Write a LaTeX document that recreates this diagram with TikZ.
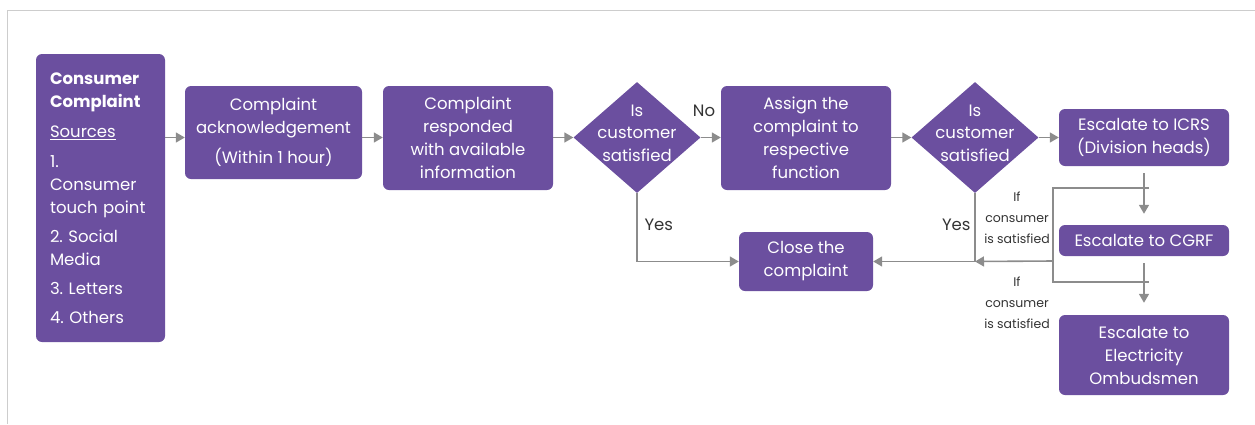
\documentclass[tikz,border=0pt]{standalone}
\usepackage{fontspec}
\setmainfont{Poppins}
\usetikzlibrary{shapes.geometric,arrows.meta}
\definecolor{cpurple}{RGB}{107,79,159}
\definecolor{cgray}{RGB}{140,140,140}
\definecolor{cframe}{RGB}{205,205,205}
\frenchspacing

\begin{document}
\begin{tikzpicture}[x=1pt,y=-1pt,
    box/.style={fill=cpurple,rounded corners=6pt,text=white,align=center,inner sep=2pt,font=\fontsize{16.5}{23}\selectfont},
    dia/.style={diamond,fill=cpurple,inner sep=0pt,minimum width=127pt,minimum height=111pt},
    dtext/.style={text=white,align=center,font=\fontsize{16.5}{22.5}\selectfont},
    arr/.style={cgray,line width=1.6pt,-{Triangle[length=9pt,width=10pt]}},
    ln/.style={cgray,line width=1.6pt},
    lbl/.style={text=black!80,font=\fontsize{16.5}{18}\selectfont},
    note/.style={text=black!80,align=center,font=\fontsize{12.5}{21}\selectfont}]
  \useasboundingbox (0,0) rectangle (1255,424);
  \draw[cframe,line width=1pt] (7,424) -- (7,10) -- (1255,10);

  % boxes
  \node[box,align=left,text width=101pt,minimum width=129pt,minimum height=288pt] (src) at (100.5,198)
    {\textbf{Consumer}\\\textbf{Complaint}\\[7pt]\underline{Sources}\\[7pt]1.\\Consumer\\touch point\\[6pt]2. Social\\Media\\[6pt]3. Letters\\[6pt]4. Others};
  \node[box,minimum width=177pt,minimum height=93pt] (ack) at (273.5,132.5)
    {Complaint\\acknowledgement\\[7pt](Within 1 hour)};
  \node[box,minimum width=170pt,minimum height=104pt] (resp) at (468,138)
    {Complaint\\responded\\with available\\information};
  \node[dia] (d1) at (637,137.5) {};
  \node[dtext] (t1) at (637,133) {Is\\customer\\satisfied};
  \node[box,minimum width=170pt,minimum height=104pt] (asgn) at (806,138)
    {Assign the\\complaint to\\respective\\function};
  \node[dia] (d2) at (975,137.5) {};
  \node[dtext] (t2) at (975,133) {Is\\customer\\satisfied};
  \node[box,minimum width=170pt,minimum height=57pt] (icrs) at (1144,137.5)
    {Escalate to ICRS\\(Division heads)};
  \node[box,minimum width=170pt,minimum height=31pt] (cgrf) at (1144,240.5)
    {Escalate to CGRF};
  \node[box,minimum width=170pt,minimum height=80pt] (omb) at (1144,355)
    {Escalate to\\Electricity\\Ombudsmen};
  \node[box,minimum width=134pt,minimum height=59pt] (close) at (806,261.5)
    {Close the\\complaint};

  % main line
  \draw[arr] (src.east |- d1) -- (ack.west |- d1);
  \draw[arr] (ack.east |- d1) -- (resp.west |- d1);
  \draw[arr] (resp.east |- d1) -- (d1.west);
  \draw[arr] (d1.east) -- (asgn.west |- d1);
  \draw[arr] (asgn.east |- d2) -- (d2.west);
  \draw[arr] (d2.east) -- (icrs.west |- d2);
  \node[lbl] (no) at (704,111) {No};

  % yes branches
  \draw[arr] (d1.south) |- (close.west);
  \node[lbl,anchor=west] (yes1) at (641,225) {Yes};
  \coordinate (j2) at (d2.south |- close);
  \coordinate (jr) at (1053,261);
  \draw[ln] (d2.south) -- (j2);
  \draw[arr] (jr) -- (j2);
  \draw[arr] (j2) -- (close.east);
  \node[lbl,anchor=east] (yes2) at (974,225) {Yes};

  % escalation
  \coordinate (bt) at (1149,188);
  \coordinate (bb) at (1149,282);
  \draw[ln] (bt) -| (jr) |- (bb);
  \draw[arr,shorten <=7pt,shorten >=11pt] (icrs) -- (cgrf);
  \draw[arr,shorten <=7pt,shorten >=12pt] (cgrf) -- (omb);
  \node[note] (n1) at (1017,218) {If\\consumer\\is satisfied};
  \node[note] (n2) at (1017,303) {If\\consumer\\is satisfied};
\end{tikzpicture}
\end{document}
